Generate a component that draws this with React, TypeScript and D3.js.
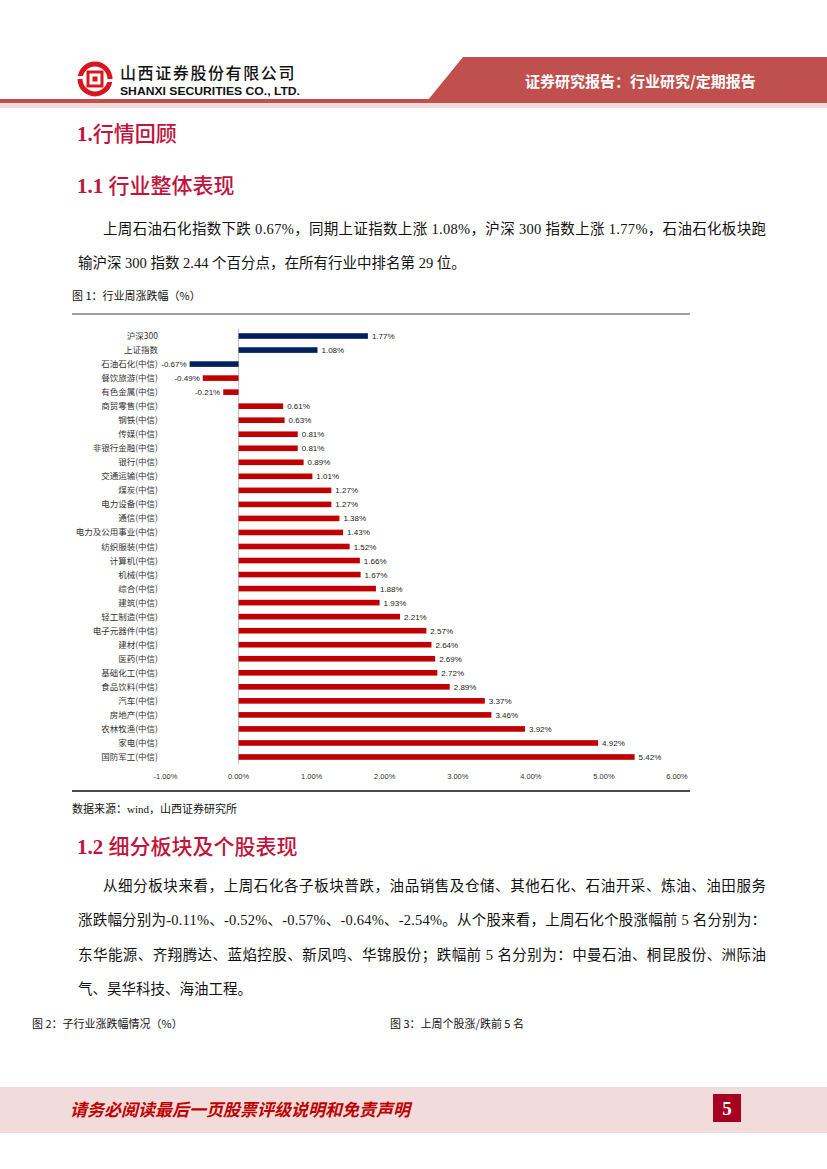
import React from "react";
import * as d3 from "d3";

const categories = [
  "沪深300", "上证指数", "石油石化(中信)", "餐饮旅游(中信)", "有色金属(中信)",
  "商贸零售(中信)", "钢铁(中信)", "传媒(中信)", "非银行金融(中信)", "银行(中信)",
  "交通运输(中信)", "煤炭(中信)", "电力设备(中信)", "通信(中信)", "电力及公用事业(中信)",
  "纺织服装(中信)", "计算机(中信)", "机械(中信)", "综合(中信)", "建筑(中信)",
  "轻工制造(中信)", "电子元器件(中信)", "建材(中信)", "医药(中信)", "基础化工(中信)",
  "食品饮料(中信)", "汽车(中信)", "房地产(中信)", "农林牧渔(中信)", "家电(中信)",
  "国防军工(中信)",
];
const values = [
  1.77, 1.08, -0.67, -0.49, -0.21,
  0.61, 0.63, 0.81, 0.81, 0.89,
  1.01, 1.27, 1.27, 1.38, 1.43,
  1.52, 1.66, 1.67, 1.88, 1.93,
  2.21, 2.57, 2.64, 2.69, 2.72,
  2.89, 3.37, 3.46, 3.92, 4.92,
  5.42,
];
const highlighted = ["沪深300", "上证指数", "石油石化(中信)"];
const xTicks = [-1, 0, 1, 2, 3, 4, 5, 6];

const para1 = [
  { text: "上周石油石化指数下跌 0.67%，同期上证指数上涨 1.08%，沪深 300 指数上涨 1.77%，石油石化板块跑", x: 103, justify: 663 },
  { text: "输沪深 300 指数 2.44 个百分点，在所有行业中排名第 29 位。", x: 78, justify: 0 },
];
const para2 = [
  { text: "从细分板块来看，上周石化各子板块普跌，油品销售及仓储、其他石化、石油开采、炼油、油田服务", x: 103, justify: 663 },
  { text: "涨跌幅分别为-0.11%、-0.52%、-0.57%、-0.64%、-2.54%。从个股来看，上周石化个股涨幅前 5 名分别为：", x: 78, justify: 688 },
  { text: "东华能源、齐翔腾达、蓝焰控股、新凤鸣、华锦股份；跌幅前 5 名分别为：中曼石油、桐昆股份、洲际油", x: 78, justify: 688 },
  { text: "气、昊华科技、海油工程。", x: 78, justify: 0 },
];

const SERIF = "'Liberation Serif', 'Noto Sans CJK SC', serif";
const SANS = "'Noto Sans CJK SC', 'Liberation Sans', sans-serif";
const HEAD = "#c0143c";
const NAVY = "#002060";
const RED = "#c00000";

function Heading({ num, title, y }: { num: string; title: string; y: number }) {
  return (
    <text x={77} y={y} fontSize={21} fill={HEAD}>
      <tspan fontFamily="'Liberation Serif', serif" fontWeight={700}>{num}</tspan>
      <tspan fontFamily={SANS} fontWeight={500}>{title}</tspan>
    </text>
  );
}

export default function App() {
  const x = d3.scaleLinear().domain([-1, 6]).range([165.5, 677]);
  const y = d3.scaleBand<string>().domain(categories).range([329, 764]).paddingInner(0.6).paddingOuter(0.3);
  const bw = y.bandwidth();

  return (
    <svg width={827} height={1169} viewBox="0 0 827 1169" style={{ position: "absolute", left: 0, top: 0, background: "#fff" }}>
      {/* Header */}
      <g>
        <polygon points="463,57 827,57 827,100 428,100" fill="#c0504d" />
        <rect x={0} y={99} width={827} height={4} fill="#c0504d" />
        <rect x={0} y={103} width={827} height={5} fill="#f2dcdb" />
        <g transform="translate(95,79)">
          <circle r={15} fill="none" stroke="#d7161e" strokeWidth={5} />
          <rect x={-7} y={-7} width={14} height={14} fill="none" stroke="#d7161e" strokeWidth={3} />
          <rect x={-2.5} y={-2.5} width={5} height={5} fill="#d7161e" />
          <rect x={-19} y={-3} width={8} height={3} fill="#fff" />
          <rect x={11} y={0} width={8} height={3} fill="#fff" />
        </g>
        <text x={120} y={79} fontFamily={SANS} fontSize={16} fontWeight={500} fill="#111" letterSpacing={1.6}>山西证券股份有限公司</text>
        <text x={120} y={95} fontFamily="'Liberation Sans', Arial, sans-serif" fontSize={11.5} fontWeight={700} fill="#111" textLength={180} lengthAdjust="spacingAndGlyphs">SHANXI SECURITIES CO., LTD.</text>
        <text x={525} y={87} fontFamily={SANS} fontSize={15} fontWeight={700} fill="#fff">证券研究报告：行业研究/定期报告</text>
      </g>

      <Heading num="1." title="行情回顾" y={141} />
      <Heading num="1.1 " title="行业整体表现" y={193} />
      {para1.map((l, i) => (
        <text key={"p1" + i} x={l.x} y={234 + i * 34} fontFamily={SERIF} fontSize={14.5} fill="#111"
          {...(l.justify ? { textLength: l.justify, lengthAdjust: "spacing" } : {})}>{l.text}</text>
      ))}

      <text x={72} y={300} fontFamily={SANS} fontSize={11} fill="#111">图 1：行业周涨跌幅（%）</text>
      <line x1={72} x2={690} y1={314} y2={314} stroke="#808080" strokeWidth={1.5} />

      {/* Chart */}
      <line x1={x(0)} x2={x(0)} y1={329} y2={764} stroke="#bfbfbf" strokeWidth={1} />
      {categories.map((c, i) => {
        const v = values[i];
        const yy = y(c)!;
        const x0 = x(Math.min(0, v));
        const w = Math.abs(x(v) - x(0));
        const col = highlighted.includes(c) ? NAVY : RED;
        const cy = yy + bw / 2;
        return (
          <g key={c}>
            <text x={158} y={cy + 3} textAnchor="end" fontFamily={SANS} fontSize={8.5} fill="#333">{c}</text>
            <rect x={x0} y={yy} width={w} height={bw} fill={col} />
            <text x={v >= 0 ? x(v) + 4 : x(v) - 3} y={cy + 3} textAnchor={v >= 0 ? "start" : "end"}
              fontFamily="'Liberation Sans', Arial, sans-serif" fontSize={8} fill="#222">{v.toFixed(2) + "%"}</text>
          </g>
        );
      })}
      {xTicks.map((t) => (
        <text key={t} x={x(t)} y={779} textAnchor="middle" fontFamily="'Liberation Sans', Arial, sans-serif" fontSize={7.5} fill="#333">
          {t.toFixed(2) + "%"}
        </text>
      ))}
      <line x1={72} x2={690} y1={791} y2={791} stroke="#111" strokeWidth={1.5} />
      <text x={72} y={813} fontFamily={SERIF} fontSize={11} fill="#111">数据来源：wind，山西证券研究所</text>

      <Heading num="1.2 " title="细分板块及个股表现" y={854} />
      {para2.map((l, i) => (
        <text key={"p2" + i} x={l.x} y={891 + i * 34.3} fontFamily={SERIF} fontSize={14.5} fill="#111"
          {...(l.justify ? { textLength: l.justify, lengthAdjust: "spacing" } : {})}>{l.text}</text>
      ))}
      <text x={32} y={1028} fontFamily={SANS} fontSize={11} fill="#111">图 2：子行业涨跌幅情况（%）</text>
      <text x={390} y={1028} fontFamily={SANS} fontSize={11} fill="#111">图 3：上周个股涨/跌前 5 名</text>

      {/* Footer */}
      <rect x={0} y={1087} width={827} height={46} fill="#f2dcdb" />
      <text x={70} y={1116} fontFamily={SERIF} fontSize={17} fontWeight={700} fontStyle="italic" fill={RED}>请务必阅读最后一页股票评级说明和免责声明</text>
      <rect x={713} y={1094} width={28} height={28} fill="#a50021" />
      <text x={727} y={1115} textAnchor="middle" fontFamily={SERIF} fontSize={19} fontWeight={700} fill="#fff">5</text>
    </svg>
  );
}
